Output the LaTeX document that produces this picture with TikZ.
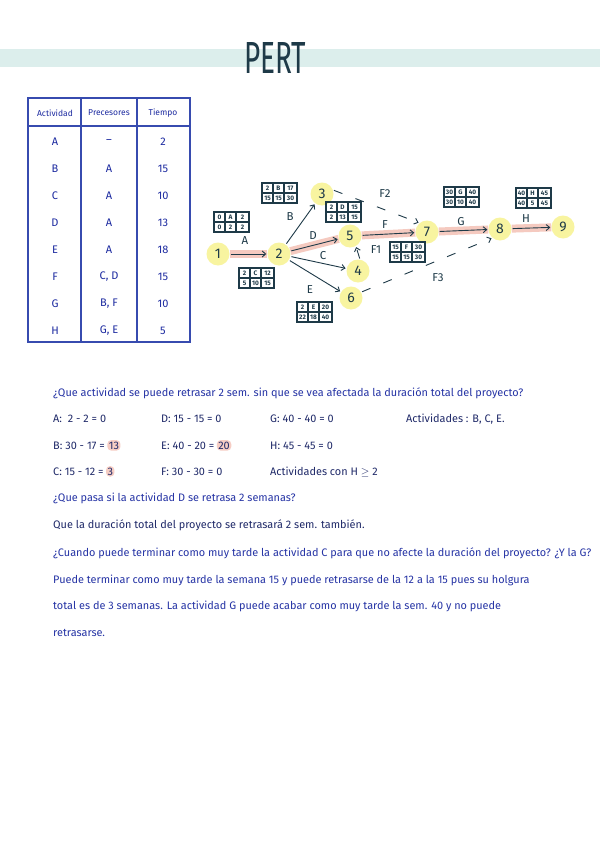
\documentclass[tikz,border=0pt]{standalone}
\usepackage{fontspec}
\setmainfont{Fira Sans}
\usetikzlibrary{arrows.meta,positioning}

\definecolor{pertteal}{RGB}{30,58,72}
\definecolor{band}{RGB}{220,238,236}
\definecolor{evyellow}{RGB}{248,244,160}
\definecolor{critpink}{RGB}{245,202,192}
\definecolor{hlpink}{RGB}{246,205,196}
\definecolor{tabblue}{RGB}{55,75,175}
\definecolor{tabtext}{RGB}{28,42,160}
\definecolor{qblue}{RGB}{38,52,165}
\definecolor{ansnavy}{RGB}{32,42,105}

\pgfdeclarelayer{bg}
\pgfsetlayers{bg,main}

\tikzset{
  title/.style={text=pertteal, font=\fontsize{45}{45}\selectfont},
  ev/.style={circle, fill=evyellow, minimum size=23pt, inner sep=0pt, text=pertteal, font=\fontsize{14}{14}\selectfont},
  act/.style={->, draw=pertteal, line width=0.9pt, shorten >=1pt, shorten <=1pt},
  dummy/.style={act, dash pattern=on 9pt off 14pt},
  crit/.style={draw=critpink, line width=8pt},
  lbl/.style={text=pertteal, font=\fontsize{11.5}{11.5}\selectfont},
  boxline/.style={draw=pertteal, line width=1.2pt},
  cell/.style={text=pertteal, font=\fontsize{6.5}{6.5}\selectfont\bfseries, inner sep=0pt},
  tline/.style={draw=tabblue, line width=1.1pt},
  thead/.style={text=tabtext, font=\fontsize{8.5}{8.5}\selectfont},
  tcell/.style={text=tabtext, font=\fontsize{11}{11}\selectfont},
  ques/.style={anchor=base west, text=qblue, font=\fontsize{10.9}{10.9}\selectfont, inner sep=0pt},
  ans/.style={ques, text=ansnavy},
  hl/.style={fill=hlpink, rounded corners=4pt, inner sep=1.5pt, text=ansnavy, font=\fontsize{10.9}{10.9}\selectfont}
}

% box with ES / activity / EF over LS / duration / LF
\newcommand{\pertbox}[8]{%
  \begin{scope}[shift={(#2)}]
    \draw[boxline] (0,0) rectangle (35,20) (11,0) -- (11,20) (22,0) -- (22,20) (0,10) -- (35,10);
    \node[cell] (#1a) at (5.5,5)  {#3};
    \node[cell] (#1b) at (16.5,5) {#4};
    \node[cell] (#1c) at (28.5,5) {#5};
    \node[cell] (#1d) at (5.5,15)  {#6};
    \node[cell] (#1e) at (16.5,15) {#7};
    \node[cell] (#1f) at (28.5,15) {#8};
  \end{scope}}

\begin{document}
\begin{tikzpicture}[x=1pt, y=-1pt, >={Straight Barb[length=3.5pt,width=6pt]}]
  \begin{pgfonlayer}{bg}
    \fill[white] (0,0) rectangle (600,848);
  \end{pgfonlayer}
  \useasboundingbox (0,0) rectangle (600,848);

  % Title
  \begin{pgfonlayer}{bg}
    \fill[band] (0,49) rectangle (600,67);
  \end{pgfonlayer}
  \node[title] (title) at (275,58) {\scalebox{0.62}[1]{PERT}};

  % Table
  \draw[tline] (28,98) rectangle (190,342);
  \draw[tline] (81,98) -- (81,342) (137,98) -- (137,342) (28,126) -- (190,126);
  \node[thead] (hAct) at (55,113) {Actividad};
  \node[thead] (hPre) at (109,113) {Precesores};
  \node[thead] (hTie) at (163,113) {Tiempo};
  \foreach \tact/\tpre/\tdur [count=\i] in {A/--/2, B/A/15, C/A/10, D/A/13, E/A/18, F/{C, D}/15, G/{B, F}/10, H/{G, E}/5} {
    \node[tcell] (act\i) at (55,115+27*\i) {\tact};
    \node[tcell] (pre\i) at (109,115+27*\i) {\tpre};
    \node[tcell] (dur\i) at (163,115+27*\i) {\tdur};
  }

  % Events
  \node[ev] (n1) at (218,254) {1};
  \node[ev] (n2) at (279,254) {2};
  \node[ev] (n3) at (322,194) {3};
  \node[ev] (n5) at (350,236) {5};
  \node[ev] (n4) at (358,271) {4};
  \node[ev] (n6) at (351,298) {6};
  \node[ev] (n7) at (427,232) {7};
  \node[ev] (n8) at (500,229) {8};
  \node[ev] (n9) at (563,227) {9};

  % Critical path
  \begin{pgfonlayer}{bg}
    \draw[crit] (n1) -- (n2);
    \draw[crit] (n2) -- (n5);
    \draw[crit] (n5) -- (n7);
    \draw[crit] (n7) -- (n8);
    \draw[crit] (n8) -- (n9);
  \end{pgfonlayer}

  % Activities
  \draw[act] (n1) -- (n2);
  \draw[act] (n2) -- (n3);
  \draw[act] (n2) -- (n5);
  \draw[act] (n2) -- (n4);
  \draw[act] (n2) -- (n6);
  \draw[act] (n5) -- (n7);
  \draw[act] (n7) -- (n8);
  \draw[act] (n8) -- (n9);
  \draw[dummy] (n3.20) -- (n7.130);
  \draw[dummy] (n4.80) -- (n5.-60);
  \draw[dummy] (n6.30) -- (n8.-130);

  % Labels
  \node[lbl] (lA) at (245,241) {A};
  \node[lbl] (lB) at (290,217) {B};
  \node[lbl] (lD) at (313,236) {D};
  \node[lbl] (lC) at (323,256) {C};
  \node[lbl] (lE) at (310,290) {E};
  \node[lbl] (lF) at (385,225) {F};
  \node[lbl] (lF2) at (385,194) {F2};
  \node[lbl] (lF1) at (376,250) {F1};
  \node[lbl] (lF3) at (438,278) {F3};
  \node[lbl] (lG) at (461,222) {G};
  \node[lbl] (lH) at (526,219) {H};

  % Times
  \pertbox{bA}{214,212}{0}{A}{2}{0}{2}{2}
  \pertbox{bB}{262,183}{2}{B}{17}{15}{15}{30}
  \pertbox{bD}{326,202}{2}{D}{15}{2}{13}{15}
  \pertbox{bC}{239,268}{2}{C}{12}{5}{10}{15}
  \pertbox{bE}{297,302}{2}{E}{20}{22}{18}{40}
  \pertbox{bF}{390,242}{15}{F}{30}{15}{15}{30}
  \pertbox{bG}{444,187}{30}{G}{40}{30}{10}{40}
  \pertbox{bH}{516,188}{40}{H}{45}{40}{5}{45}

  % Questions
  \node[ques] (q1) at (53,396) {¿Que actividad se puede retrasar 2 sem. sin que se vea afectada la duración total del proyecto?};
  \node[ans] (rA) at (53,422) {A:\ \ 2 - 2 = 0};
  \node[ans] (rD) at (161,422) {D: 15 - 15 = 0};
  \node[ans] (rG) at (270,422) {G: 40 - 40 = 0};
  \node[ans] (rAct) at (406,422) {Actividades : B, C, E.};
  \node[ans] (rB) at (53,449) {B: 30 - 17 =};
  \node[hl, base right=2pt of rB] (rBh) {13};
  \node[ans] (rE) at (161,449) {E: 40 - 20 =};
  \node[hl, base right=2pt of rE] (rEh) {20};
  \node[ans] (rH) at (270,449) {H: 45 - 45 = 0};
  \node[ans] (rC) at (53,475) {C: 15 - 12 =};
  \node[hl, base right=2pt of rC] (rCh) {3};
  \node[ans] (rF) at (161,475) {F: 30 - 30 = 0};
  \node[ans] (rH2) at (270,475) {Actividades con H $\geq$ 2};
  \node[ques] (q2) at (53,501) {¿Que pasa si la actividad D se retrasa 2 semanas?};
  \node[ans] (a2) at (53,528) {Que la duración total del proyecto se retrasará 2 sem. también.};
  \node[ques] (q3) at (53,556) {¿Cuando puede terminar como muy tarde la actividad C para que no afecte la duración del proyecto? ¿Y la G?};
  \node[ques] (a3a) at (53,583) {Puede terminar como muy tarde la semana 15 y puede retrasarse de la 12 a la 15 pues su holgura};
  \node[ques] (a3b) at (53,609) {total es de 3 semanas. La actividad G puede acabar como muy tarde la sem. 40 y no puede};
  \node[ques] (a3c) at (53,636) {retrasarse.};
\end{tikzpicture}
\end{document}
